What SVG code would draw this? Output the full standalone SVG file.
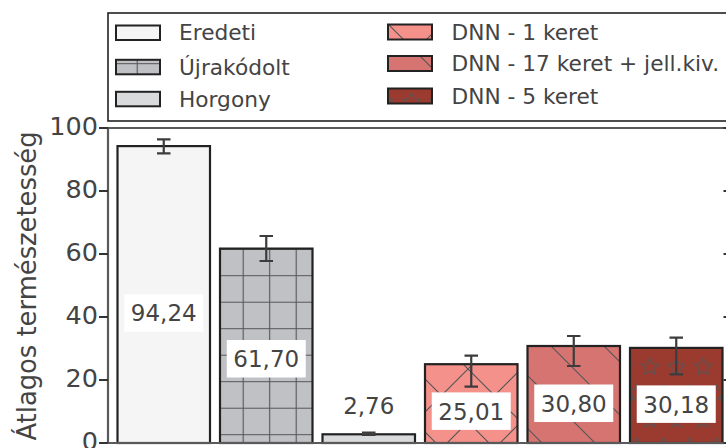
<svg xmlns="http://www.w3.org/2000/svg" xmlns:xlink="http://www.w3.org/1999/xlink" width="726" height="448" viewBox="0 0 726 448">
<style>
.t{font-family:"DejaVu Sans","Liberation Sans",sans-serif;fill:#444}
.tick{font-size:25.5px;text-anchor:end}
.ylab{font-size:25.8px;text-anchor:middle}
.leg{font-size:21.7px}
.val{font-size:23px;text-anchor:middle}
.edge{fill:none;stroke:#222;stroke-width:2.2}
.eb{stroke:#3c3c3c;stroke-width:2.2;fill:none}
.box{fill:#fff}
.spine{stroke:#5a5a5a;stroke-width:2.2;fill:none}
.tk{stroke:#333;stroke-width:2}
.h{fill:none;stroke:#555;stroke-width:1.1}
</style>
<defs>
<pattern id="grid" patternUnits="userSpaceOnUse" x="-8.55" y="-2.55" width="26.5" height="26.5"><path class="h" d="M13.25,0V26.5M0,13.25H26.5"/></pattern>
<pattern id="back" patternUnits="userSpaceOnUse" x="46" y="0" width="53" height="53"><path class="h" d="M-2,-2L55,55M-10,43L10,63M43,-10L63,10"/></pattern>
<pattern id="fwd" patternUnits="userSpaceOnUse" x="42" y="0" width="53" height="53"><path class="h" d="M-2,55L55,-2M-10,10L10,-10M43,63L63,43"/></pattern>
<path id="star" class="h" d="M0,-8.8L2.586,-3.56L8.369,-2.719L4.185,1.36L5.172,7.119L0,4.4L-5.172,7.119L-4.185,1.36L-8.369,-2.719L-2.586,-3.56Z"/>
<pattern id="stars" patternUnits="userSpaceOnUse" x="636.75" y="353.75" width="26.5" height="53">
<use xlink:href="#star" href="#star" x="13.25" y="13.25"/>
<use xlink:href="#star" href="#star" x="0" y="39.75"/>
<use xlink:href="#star" href="#star" x="26.5" y="39.75"/>
</pattern>
</defs>
<rect width="726" height="448" fill="#fff"/>

<g id="bars">
<g id="bar-eredeti"><rect x="117.5" y="146.1" width="92.5" height="296.9" fill="#f5f5f5"/><rect class="edge" x="117.5" y="146.1" width="92.5" height="296.9"/></g>
<g id="bar-ujrakodolt"><rect x="220" y="248.6" width="92.5" height="194.4" fill="#c0c1c5"/><rect x="220" y="248.6" width="92.5" height="194.4" fill="url(#grid)"/><rect class="edge" x="220" y="248.6" width="92.5" height="194.4"/></g>
<g id="bar-horgony"><rect x="322.5" y="434.3" width="92.5" height="8.7" fill="#d9dadc"/><rect class="edge" x="322.5" y="434.3" width="92.5" height="8.7"/></g>
<g id="bar-dnn1"><rect x="425" y="364.2" width="92.5" height="78.8" fill="#f3918a"/><rect x="425" y="364.2" width="92.5" height="78.8" fill="url(#back)"/><rect x="425" y="364.2" width="92.5" height="78.8" fill="url(#fwd)"/><rect class="edge" x="425" y="364.2" width="92.5" height="78.8"/></g>
<g id="bar-dnn17"><rect x="527.5" y="346" width="92.5" height="97" fill="#d57470"/><rect x="527.5" y="346" width="92.5" height="97" fill="url(#back)"/><rect class="edge" x="527.5" y="346" width="92.5" height="97"/></g>
<g id="bar-dnn5"><rect x="630" y="347.9" width="92.5" height="95.1" fill="#9b3b30"/><rect x="630" y="347.9" width="92.5" height="95.1" fill="url(#stars)"/><rect class="edge" x="630" y="347.9" width="92.5" height="95.1"/></g>
</g>

<g id="errorbars">
<path class="eb" d="M163.75,139.3V153.3M157,139.3H170.5M157,153.3H170.5"/>
<path class="eb" d="M266.25,236V261M259.5,236H273M259.5,261H273"/>
<path class="eb" d="M368.75,432.5V435M362,432.5H375.5M362,435H375.5"/>
<path class="eb" d="M471.25,355.7V386.7M464.5,355.7H478M464.5,386.7H478"/>
<path class="eb" d="M573.75,336V366M567,336H580.5M567,366H580.5"/>
<path class="eb" d="M676.25,337.7V374.3M669.5,337.7H683M669.5,374.3H683"/>
</g>

<g id="values">
<rect class="box" x="124.25" y="294.3" width="79" height="37.5"/><text class="t val" x="163.75" y="321.4">94,24</text>
<rect class="box" x="226.75" y="340" width="79" height="37.5"/><text class="t val" x="266.25" y="367.2">61,70</text>
<text class="t val" x="368.75" y="414">2,76</text>
<rect class="box" x="431.75" y="392.4" width="79" height="37.5"/><text class="t val" x="471.25" y="419.6">25,01</text>
<rect class="box" x="534.25" y="384.5" width="79" height="37.5"/><text class="t val" x="573.75" y="411.7">30,80</text>
<rect class="box" x="636.75" y="385.4" width="79" height="37.5"/><text class="t val" x="676.25" y="412.6">30,18</text>
</g>

<g id="axes">
<path class="spine" d="M727,128H108V443H727"/>
<path class="tk" d="M99,443H108M99,380H108M99,317H108M99,254H108M99,191H108M99,128H108"/>
<path class="tk" d="M723.5,443H727M723.5,380H727M723.5,317H727M723.5,254H727M723.5,191H727M723.5,128H727"/>
<text class="t tick" x="98" y="450">0</text>
<text class="t tick" x="98" y="387">20</text>
<text class="t tick" x="98" y="324">40</text>
<text class="t tick" x="98" y="261">60</text>
<text class="t tick" x="98" y="198">80</text>
<text class="t tick" x="98" y="135">100</text>
<text class="t ylab" transform="translate(36,286) rotate(-90)">Átlagos természetesség</text>
</g>

<g id="legend">
<rect x="108" y="13" width="630" height="108" fill="#fff" stroke="#222" stroke-width="1.6"/>
<g id="leg-eredeti"><rect x="116" y="25.5" width="44" height="14.5" fill="#f5f5f5" stroke="#222" stroke-width="2"/><text class="t leg" x="179" y="40">Eredeti</text></g>
<g id="leg-ujrakodolt"><rect x="116" y="59.8" width="44" height="14.5" fill="#c0c1c5"/><rect x="116" y="59.8" width="44" height="14.5" fill="url(#grid)" stroke="#222" stroke-width="2"/><text class="t leg" x="179" y="74.6">Újrakódolt</text></g>
<g id="leg-horgony"><rect x="116" y="91.8" width="44" height="14.5" fill="#d9dadc" stroke="#222" stroke-width="2"/><text class="t leg" x="179" y="106.8">Horgony</text></g>
<g id="leg-dnn1"><rect x="388" y="24.5" width="44" height="15" fill="#f3918a"/><rect x="388" y="24.5" width="44" height="15" fill="url(#back)"/><rect x="388" y="24.5" width="44" height="15" fill="url(#fwd)" stroke="#222" stroke-width="2"/><text class="t leg" x="451.5" y="39.7">DNN - 1 keret</text></g>
<g id="leg-dnn17"><rect x="388" y="56" width="44" height="15" fill="#d57470"/><rect x="388" y="56" width="44" height="15" fill="url(#back)" stroke="#222" stroke-width="2"/><text class="t leg" x="451.5" y="71.3">DNN - 17 keret + jell.kiv.</text></g>
<g id="leg-dnn5"><rect x="388" y="88.5" width="44" height="15" fill="#9b3b30"/><rect x="388" y="88.5" width="44" height="15" fill="url(#stars)" stroke="#222" stroke-width="2"/><text class="t leg" x="451.5" y="104">DNN - 5 keret</text></g>
</g>
</svg>
